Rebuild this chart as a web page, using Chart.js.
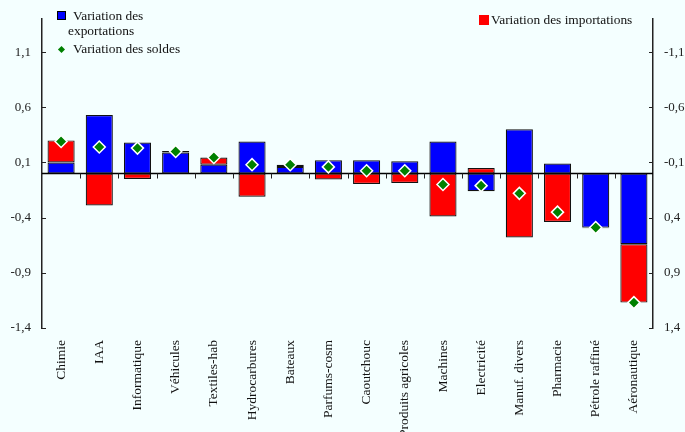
<!DOCTYPE html>
<html>
<head>
<meta charset="utf-8">
<script src="https://cdn.jsdelivr.net/npm/chart.js@4"></script>
<style>
  body { margin: 0; background: #f4ffff; }
  #wrap { position: relative; width: 685px; height: 432px; background: #f4ffff; font-family: "Liberation Serif", serif; font-size: 13.4px; color: #111; }
  #wrap canvas { position: absolute; left: 0; top: 0; }
  .lg { position: absolute; line-height: 15px; white-space: nowrap; }
  .sq { position: absolute; box-sizing: border-box; }
</style>
</head>
<body>
<div id="wrap">
  <canvas id="chart1" width="685" height="432"></canvas>
  <div class="sq" style="left:57px;top:11px;width:9px;height:9px;background:#0000ff;border:1px solid #000;"></div>
  <div class="lg" style="left:73px;top:8px;">Variation des</div>
  <div class="lg" style="left:68px;top:23px;">exportations</div>
  <div class="sq" style="left:58.5px;top:46.5px;width:5px;height:5px;background:#008000;transform:rotate(45deg);"></div>
  <div class="lg" style="left:73px;top:41px;">Variation des soldes</div>
  <div class="sq" style="left:479px;top:15px;width:10px;height:10px;background:#ff0000;"></div>
  <div class="lg" style="left:491px;top:12px;">Variation des importations</div>
</div>
<script>
const categories = ['Chimie', 'IAA', 'Informatique', 'Véhicules', 'Textiles-hab', 'Hydrocarbures', 'Bateaux',
    'Parfums-cosm', 'Caoutchouc', 'Produits agricoles', 'Machines', 'Electricité', 'Manuf. divers',
    'Pharmacie', 'Pétrole raffiné', 'Aéronautique'];
const exportations = [0.10, 0.53, 0.28, 0.19, 0.08, 0.29, 0.06, 0.12, 0.12, 0.11, 0.29, -0.16, 0.40, 0.09, -0.49, -0.64];
const importations = [0.20, -0.29, -0.05, 0.015, 0.065, -0.21, 0.02, -0.055, -0.095, -0.085, -0.39, 0.05, -0.58, -0.44, -0.005, -0.53];
const soldes = [0.29, 0.24, 0.23, 0.20, 0.145, 0.08, 0.08, 0.06, 0.025, 0.025, -0.10, -0.11, -0.18, -0.35, -0.49, -1.17];
const leftTicks = [-1.4, -0.9, -0.4, 0.1, 0.6, 1.1];
const rightTicks = [-1.1, -0.6, -0.1, 0.4, 0.9, 1.4];

const fmt = v => Number(v).toFixed(1).replace('.', ',');
const tickFont = { family: 'Liberation Serif', size: 13 };

// zero line, category marks and inward axis ticks
const decor = {
    id: 'decor',
    beforeDatasetsDraw(chart) {
        const { ctx, chartArea, scales } = chart;
        const y0 = scales.y.getPixelForValue(0);
        ctx.save();
        ctx.strokeStyle = '#000';
        ctx.lineWidth = 1.5;
        ctx.beginPath();
        ctx.moveTo(chartArea.left, y0);
        ctx.lineTo(chartArea.right, y0);
        ctx.stroke();
        ctx.lineWidth = 1;
        ctx.strokeStyle = '#222';
        ctx.beginPath();
        for (let i = 1; i < categories.length; i++) {
            const x = Math.round((scales.x.getPixelForValue(i - 1) + scales.x.getPixelForValue(i)) / 2) + 0.5;
            ctx.moveTo(x, y0);
            ctx.lineTo(x, y0 + 5);
        }
        leftTicks.forEach(v => {
            const y = Math.round(scales.y.getPixelForValue(v)) + 0.5;
            ctx.moveTo(chartArea.left, y);
            ctx.lineTo(chartArea.left + 4, y);
        });
        rightTicks.forEach(v => {
            const y = Math.round(scales.y2.getPixelForValue(v)) + 0.5;
            ctx.moveTo(chartArea.right, y);
            ctx.lineTo(chartArea.right - 4, y);
        });
        ctx.stroke();
        ctx.restore();
    }
};

new Chart(document.getElementById('chart1'), {
    type: 'bar',
    data: {
        labels: categories,
        datasets: [
            {
                type: 'line',
                label: 'Variation des soldes',
                data: soldes,
                showLine: false,
                stack: 'solde',
                order: 0,
                pointStyle: 'rectRot',
                pointRadius: 6,
                pointBackgroundColor: '#008000',
                pointBorderColor: '#ffffff',
                pointBorderWidth: 1.5
            },
            {
                label: 'Variation des exportations',
                data: exportations,
                stack: 'bars',
                order: 1,
                backgroundColor: '#0000ff',
                borderColor: '#111',
                borderWidth: 1.2,
                borderSkipped: false
            },
            {
                label: 'Variation des importations',
                data: importations,
                stack: 'bars',
                order: 1,
                backgroundColor: '#ff0000',
                borderColor: '#111',
                borderWidth: 1.2,
                borderSkipped: false
            }
        ]
    },
    options: {
        responsive: false,
        animation: false,
        events: [],
        layout: { padding: { top: 19, left: 0, right: 0, bottom: 0 } },
        datasets: { bar: { categoryPercentage: 1, barPercentage: 0.71 } },
        plugins: { legend: { display: false }, tooltip: { enabled: false } },
        scales: {
            x: {
                stacked: true,
                grid: { display: false },
                border: { display: false },
                ticks: {
                    autoSkip: false, minRotation: 90, maxRotation: 90, padding: 4,
                    color: '#111', font: { family: 'Liberation Serif', size: 13.5 }
                },
                afterFit(scale) { scale.height = 104; scale.paddingLeft = 0; scale.paddingRight = 0; }
            },
            y: {
                stacked: true,
                position: 'left',
                min: -1.4,
                max: 1.4,
                grid: { display: false, drawTicks: false },
                border: { color: '#222', width: 1.5 },
                ticks: { padding: 11, color: '#222', font: tickFont, callback: v => fmt(v) },
                afterBuildTicks(scale) { scale.ticks = leftTicks.map(v => ({ value: v })); },
                afterFit(scale) { scale.width = 42; scale.paddingTop = 0; scale.paddingBottom = 0; }
            },
            y2: {
                position: 'right',
                reverse: true,
                min: -1.4,
                max: 1.4,
                grid: { display: false, drawTicks: false },
                border: { color: '#222', width: 1.5 },
                ticks: { padding: 11, color: '#222', font: tickFont, callback: v => fmt(v) },
                afterBuildTicks(scale) { scale.ticks = rightTicks.map(v => ({ value: v })); },
                afterFit(scale) { scale.width = 32; scale.paddingTop = 0; scale.paddingBottom = 0; }
            }
        }
    },
    plugins: [decor]
});
</script>
</body>
</html>
